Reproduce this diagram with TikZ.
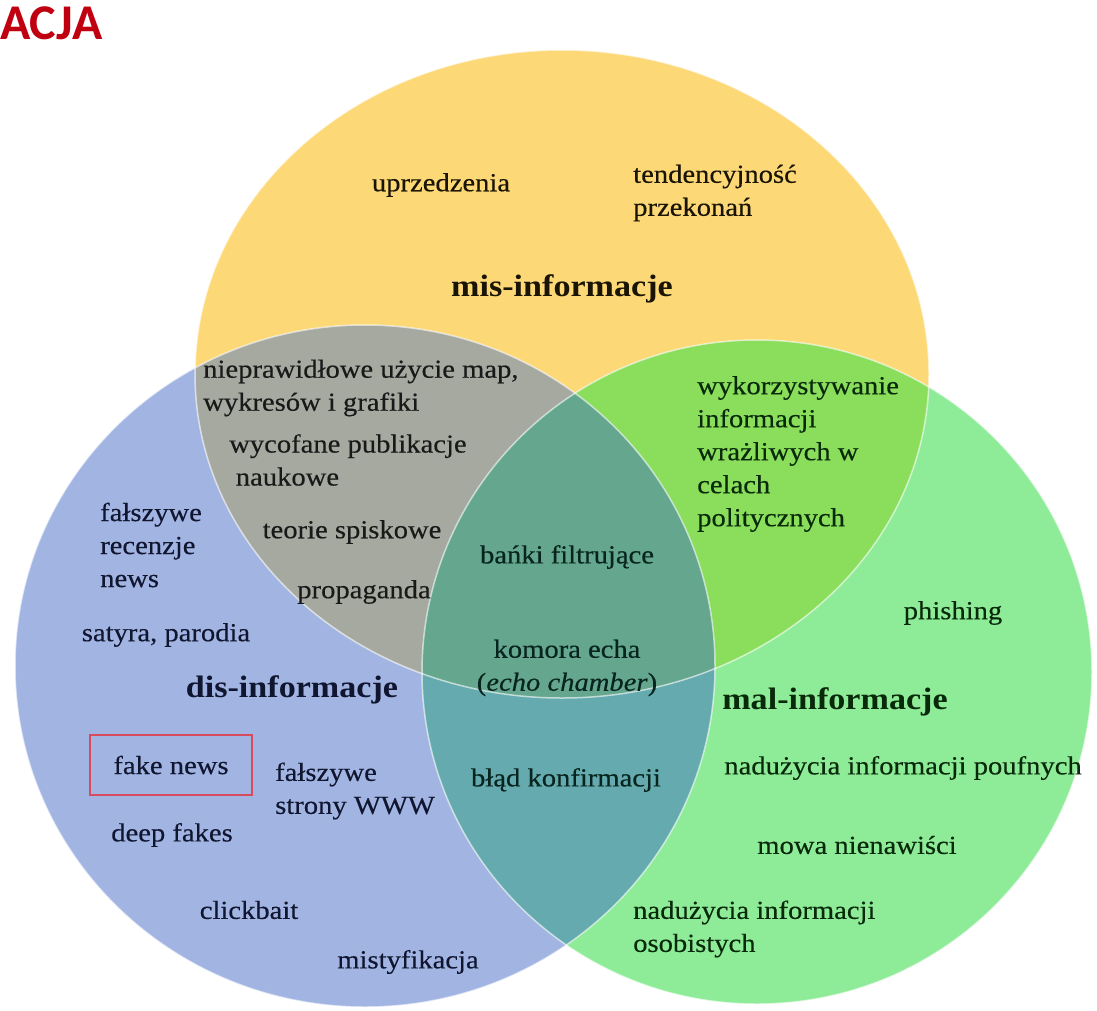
\documentclass[tikz,border=0pt]{standalone}
\usepackage{fontspec}
\setmainfont{Liberation Serif}
\newfontfamily\lblfont[FakeBold=0.3]{Liberation Serif}
\newfontfamily\headfont{Carlito}
\usetikzlibrary{positioning}

\definecolor{misyellow}{HTML}{FDD877}
\definecolor{disblue}{HTML}{A2B5E2}
\definecolor{malgreen}{HTML}{8EEB97}
\definecolor{misdis}{HTML}{A6A9A0}
\definecolor{mismal}{HTML}{8BDD5C}
\definecolor{dismal}{HTML}{64AAAE}
\definecolor{allthree}{HTML}{64A68E}
\definecolor{acjared}{HTML}{C00010}
\definecolor{boxred}{HTML}{D84A5E}
\definecolor{txtblue}{HTML}{101530}
\definecolor{txtgreen}{HTML}{082A0A}
\definecolor{txtyellow}{HTML}{1A1405}
\definecolor{txtteal}{HTML}{08241E}

\newcommand{\misShape}{(562,374) ellipse [x radius=367pt, y radius=324pt]}
\newcommand{\disShape}{(365,666) ellipse [x radius=350pt, y radius=341pt]}
\newcommand{\malShape}{(757,672) ellipse [x radius=335pt, y radius=332pt]}

\tikzset{
  lbl/.style={font=\lblfont\fontsize{26}{33}\selectfont, xscale=1.1, inner sep=0pt, align=left},
  ttl/.style={font=\bfseries\fontsize{31}{36}\selectfont, xscale=1.1, inner sep=0pt},
  rim/.style={draw=white, draw opacity=0.6, line width=1.5pt}
}

\begin{document}
\begin{tikzpicture}[x=1pt,y=-1pt]
\useasboundingbox (0,0) rectangle (1097,1010);

% the three sets
\fill[misyellow] \misShape;
\fill[disblue] \disShape;
\fill[malgreen] \malShape;
\begin{scope}
\clip \misShape;
\fill[misdis] \disShape;
\fill[mismal] \malShape;
\end{scope}
\begin{scope}
\clip \disShape;
\fill[dismal] \malShape;
\clip \malShape;
\fill[allthree] \misShape;
\end{scope}
\draw[rim] \misShape;
\draw[rim] \disShape;
\draw[rim] \malShape;

\node[anchor=base west,inner sep=0pt,text=acjared,font=\headfont\bfseries\fontsize{50}{54}\selectfont] (acja) at (0,39) {ACJA};

% mis-informacje
\node[lbl,text=txtyellow] (uprz) at (441,185) {uprzedzenia};
\node[lbl,text=txtyellow,anchor=west] (tend) at (633,193) {tendencyjność\\przekonań};
\node[ttl,text=txtyellow] (mis) at (562,289) {mis-informacje};

% mis + dis
\node[lbl,text=black!90,anchor=west] (map) at (203,388) {nieprawidłowe użycie map,\\wykresów i grafiki};
\node[lbl,text=black!90,anchor=west] (wyco) at (229,460) {wycofane publikacje\\\hspace*{6pt}naukowe};
\node[lbl,text=black!90] (teor) at (352,532) {teorie spiskowe};
\node[lbl,text=black!90] (prop) at (364,592) {propaganda};

% dis-informacje
\node[lbl,text=txtblue,anchor=west] (recen) at (100,545) {fałszywe\\recenzje\\news};
\node[lbl,text=txtblue] (saty) at (166,635) {satyra, parodia};
\node[ttl,text=txtblue] (dis) at (292,690) {dis-informacje};
\node[lbl,text=txtblue,draw=boxred,line width=2pt,minimum width=148pt,minimum height=60pt] (fake) at (171,765) {fake news};
\node[lbl,text=txtblue,anchor=west] (www) at (275,791) {fałszywe\\strony WWW};
\node[lbl,text=txtblue] (deep) at (172,835) {deep fakes};
\node[lbl,text=txtblue] (click) at (249,910) {clickbait};
\node[lbl,text=txtblue] (myst) at (408,962) {mistyfikacja};

% middle
\node[lbl,text=txtteal] (banki) at (567,557) {bańki filtrujące};
\node[lbl,text=txtteal,align=center] (echo) at (567,668) {komora echa\\(\textit{echo chamber})};
\node[lbl,text=txtteal] (blad) at (566,780) {błąd konfirmacji};

% mis + mal
\node[lbl,text=txtgreen,anchor=west] (wyko) at (697,454) {wykorzystywanie\\informacji\\wrażliwych w\\celach\\politycznych};

% mal-informacje
\node[lbl,text=txtgreen] (phish) at (953,613) {phishing};
\node[ttl,text=txtgreen] (mal) at (835,702) {mal-informacje};
\node[lbl,text=txtgreen] (pouf) at (903,768) {nadużycia informacji poufnych};
\node[lbl,text=txtgreen] (mowa) at (857,845) {mowa nienawiści};
\node[lbl,text=txtgreen,anchor=west] (osob) at (633,929) {nadużycia informacji\\osobistych};

\end{tikzpicture}
\end{document}
